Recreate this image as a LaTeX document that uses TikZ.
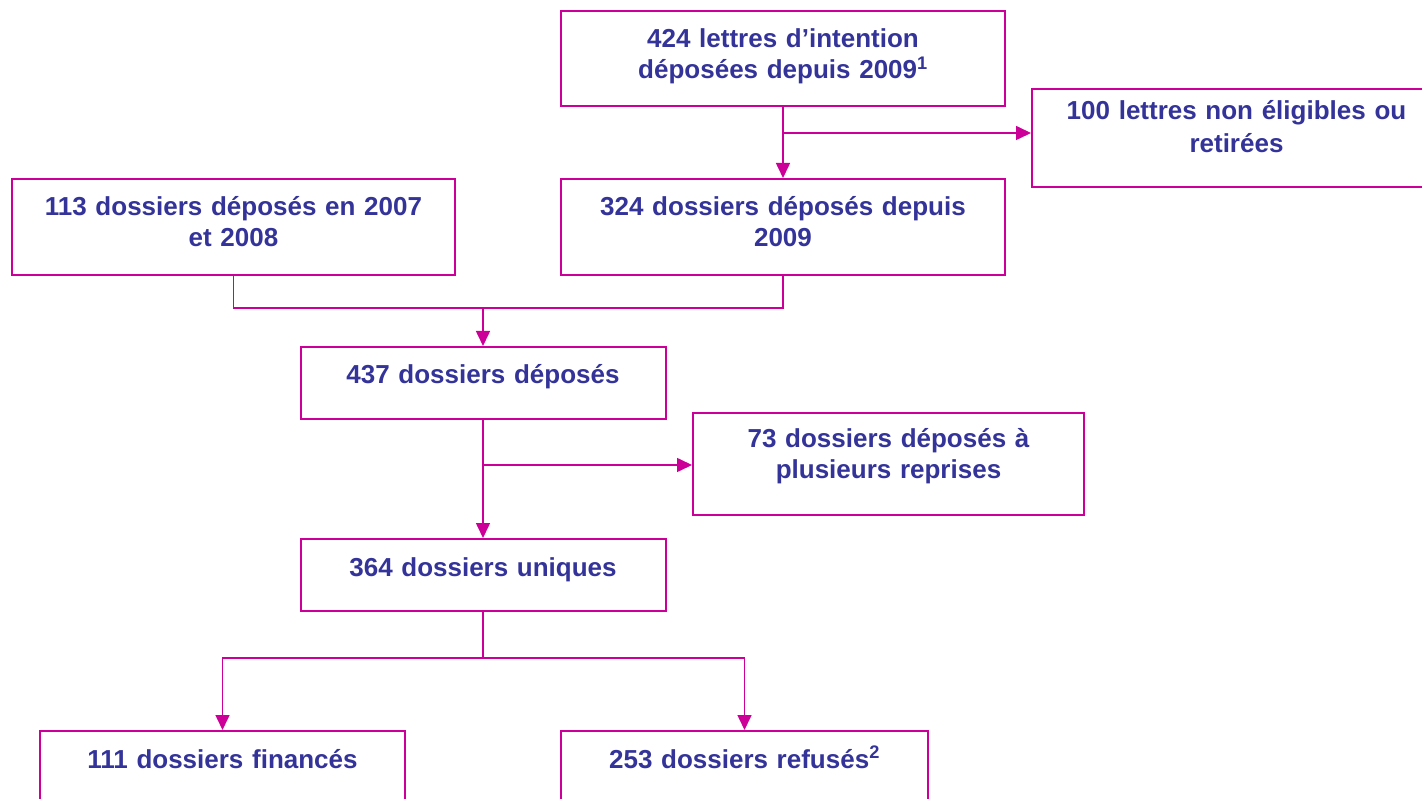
\documentclass[tikz,border=0pt]{standalone}
\usepackage{fontspec}
\setmainfont{Liberation Sans}
\usetikzlibrary{arrows.meta,positioning,calc}
\definecolor{rose}{HTML}{CC0099}
\definecolor{ink}{HTML}{333399}
\tikzset{
  >={Triangle[length=15pt,width=14pt]},
  link/.style={line width=1.6pt,draw=rose},
  flow/.style={link,->},
  box/.style={draw=rose,line width=2pt,inner sep=0pt,align=center,
    text=ink,font=\fontsize{26}{31}\selectfont\bfseries},
  onebox/.style={box,text height=37pt,text depth=35pt},
  twobox/.style={box,text height=37pt,text depth=59pt}
}
\begin{document}
\begin{tikzpicture}[x=1pt,y=-1pt]
  \useasboundingbox (0,0) rectangle (1422,799);
  \node[twobox,text width=444pt,anchor=north,text depth=58pt] (lettres) at (783,10) {424 lettres d’intention\\déposées depuis 2009\textsuperscript{1}};
  \node[twobox,text width=409pt,anchor=north west,text height=31pt,text depth=67pt,font=\fontsize{26}{33}\selectfont\bfseries] (nonelig) at (1031,88) {100 lettres non éligibles ou\\retirées};
  \node[twobox,text width=443pt,anchor=north] (avant) at (233.5,178) {113 dossiers déposés en 2007\\et 2008};
  \node[twobox,text width=444pt,anchor=north] (depuis) at (783,178) {324 dossiers déposés depuis\\2009};
  \node[onebox,text width=365pt,anchor=north] (deposes) at (483,346) {437 dossiers déposés};
  \node[twobox,text width=391pt,anchor=north west,text height=35pt,text depth=67pt] (repris) at (692,412) {73 dossiers déposés à\\plusieurs reprises};
  \node[onebox,text width=365pt,anchor=north] (uniques) at (483,538) {364 dossiers uniques};
  \node[onebox,text width=365pt,anchor=north,text depth=50pt] (finances) at (222.5,730) {111 dossiers financés};
  \node[onebox,text width=367pt,anchor=north,text depth=50pt] (refuses) at (744.5,730) {253 dossiers refusés\textsuperscript{2}};
  % connectors
  \coordinate (split1) at (783,133);
  \coordinate (join) at (483,308);
  \coordinate (split2) at (483,465);
  \coordinate (split3) at (483,658);
  \draw[flow] (lettres) -- (depuis);
  \draw[flow] (split1) -- (split1 -| nonelig.west);
  \draw[link] (avant.south) |- (join) -| (depuis.south);
  \draw[flow] (join) -- (deposes);
  \draw[flow] (deposes) -- (uniques);
  \draw[flow] (split2) -- (split2 -| repris.west);
  \draw[link] (uniques) -- (split3);
  \draw[flow] (split3) -| (finances.north);
  \draw[flow] (split3) -| (refuses.north);
\end{tikzpicture}
\end{document}
